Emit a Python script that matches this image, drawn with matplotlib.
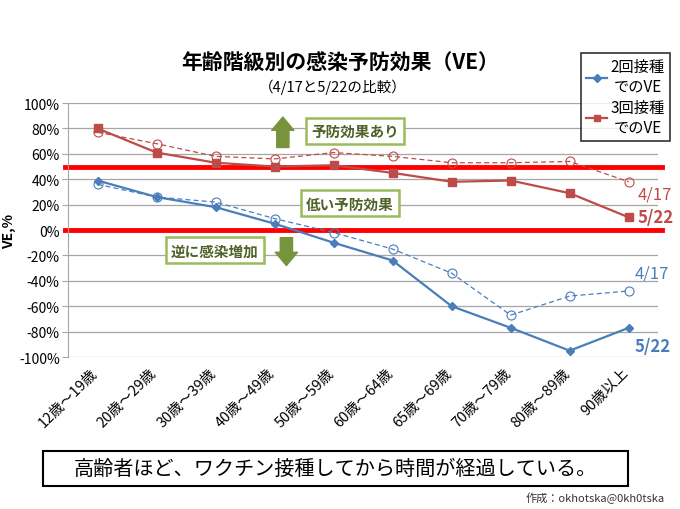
import matplotlib
matplotlib.use("Agg")
import matplotlib.pyplot as plt
import matplotlib.transforms as mtransforms
from matplotlib.patches import Rectangle
from matplotlib.lines import Line2D
from matplotlib.ticker import FuncFormatter

plt.rcParams['font.family'] = ['Noto Sans CJK JP', 'DejaVu Sans']

categories = ["12歳～19歳", "20歳～29歳", "30歳～39歳", "40歳～49歳", "50歳～59歳",
              "60歳～64歳", "65歳～69歳", "70歳～79歳", "80歳～89歳", "90歳以上"]
ve2_0522 = [39, 26, 18, 5, -10, -24, -60, -77, -95, -77]
ve2_0417 = [36, 26, 22, 9, -2, -15, -34, -67, -52, -48]
ve3_0522 = [80, 61, 53, 50, 51, 45, 38, 39, 29, 10]
ve3_0417 = [77, 68, 58, 56, 61, 58, 53, 53, 54, 38]
yticks = [100, 80, 60, 40, 20, 0, -20, -40, -60, -80, -100]
ref_lines = [50, 0]

blue = '#4A7EBB'
red = '#BE4B48'
green_edge = '#9BBB59'
green_text = '#4F6228'
green_fill = '#77933C'

fig = plt.figure(figsize=(6.8, 5.1), dpi=100)
ax = fig.add_axes([0.1, 0.298, 0.868, 0.498])

x = list(range(len(categories)))
ax.set_xlim(-0.5, len(categories) - 0.5)
ax.set_ylim(-100, 100)
ax.set_yticks(yticks)
ax.yaxis.set_major_formatter(FuncFormatter(lambda v, p: f"{int(v)}%"))
ax.grid(axis='y', color='#A6A6A6', linewidth=0.9)
ax.set_axisbelow(True)
for s in ['top', 'right', 'bottom']:
    ax.spines[s].set_visible(False)
ax.spines['left'].set_color('#A6A6A6')
ax.tick_params(axis='y', length=4, color='#A6A6A6', labelsize=10, pad=2)
ax.tick_params(axis='x', length=0, labelsize=10.5, pad=3)
ax.set_xticks(x)
ax.set_xticklabels(categories, rotation=45, ha='right', rotation_mode='anchor')
offset = mtransforms.ScaledTranslation(-7 / 100, -4 / 100, fig.dpi_scale_trans)
for lbl in ax.get_xticklabels():
    lbl.set_transform(lbl.get_transform() + offset)

for v in ref_lines:
    ax.axhline(v, color='#FF0000', linewidth=3.5, xmin=-0.005, xmax=1.007, clip_on=False, zorder=2)

ax.plot(x, ve3_0417, color=red, linestyle='--', linewidth=0.9, dashes=(4, 2.5), marker='o',
        markersize=6.5, markerfacecolor='none', markeredgecolor=red, markeredgewidth=0.8, zorder=3)
ax.plot(x, ve2_0417, color=blue, linestyle='--', linewidth=0.9, dashes=(4, 2.5), marker='o',
        markersize=6.5, markerfacecolor='none', markeredgecolor=blue, markeredgewidth=0.8, zorder=3)
ax.plot(x, ve3_0522, color=red, linewidth=1.6, marker='s', markersize=6, zorder=4)
ax.plot(x, ve2_0522, color=blue, linewidth=1.6, marker='D', markersize=4.5, zorder=4)

ax.set_ylabel("VE,%", fontsize=10, fontweight='bold', labelpad=2)

# end labels
last = len(categories) - 1
ax.text(last + 0.15, ve3_0417[-1] - 10, "4/17", color=red, fontsize=12, ha='left', va='center')
ax.text(last + 0.15, ve3_0522[-1], "5/22", color=red, fontsize=12, fontweight='bold', ha='left', va='center')
ax.text(last + 0.1, ve2_0417[-1] + 14, "4/17", color=blue, fontsize=12, ha='left', va='center')
ax.text(last + 0.1, ve2_0522[-1] - 14, "5/22", color=blue, fontsize=12, fontweight='bold', ha='left', va='center')

# green annotation boxes
box = dict(boxstyle='square,pad=0.35', fc='white', ec=green_edge, lw=1.8)
ax.text(4.36, 78, "予防効果あり", color=green_text, fontsize=10.5, fontweight='bold',
        ha='center', va='center', bbox=box, zorder=6)
ax.text(4.28, 21, "低い予防効果", color=green_text, fontsize=10.5, fontweight='bold',
        ha='center', va='center', bbox=box, zorder=6)
ax.text(1.99, -16, "逆に感染増加", color=green_text, fontsize=10.5, fontweight='bold',
        ha='center', va='center', bbox=box, zorder=6)
arrow = dict(arrowstyle='simple,head_length=0.6,head_width=1.0,tail_width=0.55',
             mutation_scale=16, fc=green_fill, ec=green_fill, shrinkA=0, shrinkB=0)
ax.annotate('', xy=(3.14, 89), xytext=(3.14, 65), arrowprops=arrow, zorder=6)
ax.annotate('', xy=(3.2, -28), xytext=(3.2, -6), arrowprops=arrow, zorder=6)

# legend
handles = [Line2D([], [], color=blue, linewidth=1.6, marker='D', markersize=4),
           Line2D([], [], color=red, linewidth=1.6, marker='s', markersize=5)]
leg = fig.legend(handles, ["2回接種\nでのVE", "3回接種\nでのVE"], loc='upper right',
                 bbox_to_anchor=(670 / 680, 1 - 54 / 510), frameon=True, fancybox=False,
                 edgecolor='black', fontsize=11, handlelength=1.4, handletextpad=0.2,
                 borderpad=0.35, labelspacing=0.25, borderaxespad=0)
leg.get_frame().set_linewidth(1.2)
for t in leg.get_texts():
    t.set_multialignment('center')

# titles
fig.text(0.5, 0.876, "年齢階級別の感染予防効果（VE）", fontsize=15, fontweight='bold',
         ha='center', va='center')
fig.text(0.49, 0.829, "（4/17と5/22の比較）", fontsize=10.5, ha='center', va='center')

# bottom message
fig.patches.append(Rectangle((43 / 680, 1 - 487 / 510), 585 / 680, 35 / 510,
                             transform=fig.transFigure, fill=False, ec='black', lw=1.5))
fig.text(335.5 / 680, 1 - 469 / 510, "高齢者ほど、ワクチン接種してから時間が経過している。",
         fontsize=14.5, ha='center', va='center')
fig.text(665 / 680, 1 - 498 / 510, "作成：okhotska@0kh0tska", fontsize=8, ha='right', va='center',
         color='#333333')

fig.savefig("out.png", dpi=100)
